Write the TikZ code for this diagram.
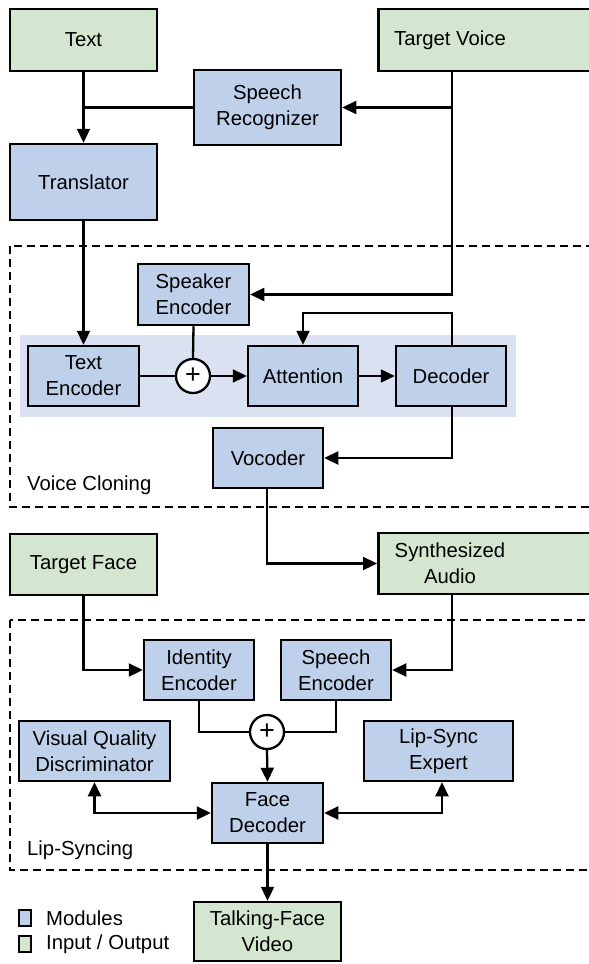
\documentclass[tikz,border=0pt]{standalone}
\usepackage{fontspec}
\setmainfont{Liberation Sans}
\usetikzlibrary{arrows.meta,positioning,calc}
\definecolor{modblue}{RGB}{190,208,234}
\definecolor{iogreen}{RGB}{213,230,208}
\definecolor{bandblue}{RGB}{218,226,242}
\begin{document}
\begin{tikzpicture}[x=1pt,y=-1pt,
  font=\fontsize{20.3}{26}\selectfont,
  box/.style={draw=black, line width=2.5pt, align=center, inner sep=0pt, minimum height=60pt},
  module/.style={box, fill=modblue},
  iobox/.style={box, fill=iogreen},
  plusnode/.style={circle, draw=black, line width=2.3pt, fill=white, minimum size=34pt, inner sep=0pt, font=\fontsize{27}{27}\selectfont},
  conn/.style={line width=2.3pt},
  arr/.style={conn, -{Triangle[length=14pt,width=13pt]}},
  biarr/.style={conn, {Triangle[length=14pt,width=13pt]}-{Triangle[length=14pt,width=13pt]}},
  group/.style={line width=2.3pt, dash pattern=on 8pt off 5pt},
  grouplabel/.style={anchor=west, inner sep=0pt}
]
\useasboundingbox (0,0) rectangle (589,964);
\clip (0,0) rectangle (589,964);
\fill[white] (0,0) rectangle (589,964);

% group frames and band
\draw[group] (10,246) rectangle (600,507);
\draw[group] (10,620) rectangle (600,870);
\fill[bandblue] (20,335) rectangle (516,417);

% top inputs
\node[iobox, minimum width=147pt, minimum height=62pt] (text) at (83.5,40) {Text};
\node[iobox, minimum width=230pt, minimum height=62pt, anchor=west] (tv) at (377,40) {};
\node (tvlab) at (450,40) {Target Voice};
\node[module, minimum width=147pt, minimum height=75pt] (sr) at (267.5,107.5) {Speech\\Recognizer};
\node[module, minimum width=147pt, minimum height=76pt] (tr) at (83.5,182) {Translator};

% voice cloning
\node[module, minimum width=111pt, minimum height=61pt] (spk) at (193.5,294.5) {Speaker\\Encoder};
\node[module, minimum width=111pt] (te) at (83.5,376) {Text\\Encoder};
\node[plusnode] (p1) at (193,376) {+};
\node[module, minimum width=110pt] (att) at (303,376) {Attention};
\node[module, minimum width=110pt] (dec) at (451,376) {Decoder};
\node[module, minimum width=110pt] (voc) at (268,458) {Vocoder};
\node[grouplabel] (vclab) at (27,485) {Voice Cloning};

% middle io
\node[iobox, minimum width=147pt, minimum height=61pt] (tf) at (83.5,564.5) {Target Face};
\node[iobox, minimum width=230pt, minimum height=61pt, anchor=west] (sa) at (377,563.5) {};
\node[align=center] (salab) at (450,563.5) {Synthesized\\Audio};

% lip syncing
\node[module, minimum width=110pt] (ie) at (199,670) {Identity\\Encoder};
\node[module, minimum width=110pt] (se) at (336,670) {Speech\\Encoder};
\node[plusnode] (p2) at (267,732) {+};
\node[module, minimum width=151pt] (vqd) at (94.5,751) {Visual Quality\\Discriminator};
\node[module, minimum width=149pt] (lse) at (438.5,751) {Lip-Sync\\Expert};
\node[module, minimum width=111pt] (fd) at (267.5,813) {Face\\Decoder};
\node[grouplabel] (lslab) at (27,850) {Lip-Syncing};
\node[iobox, minimum width=147pt, minimum height=59pt] (tfv) at (267.5,931.5) {Talking-Face\\Video};

% legend
\node[draw=black, line width=2.3pt, fill=modblue, minimum width=12pt, minimum height=16pt, inner sep=0pt] (lg1) at (25,918) {};
\node[anchor=west, inner sep=0pt] (lg1t) at (46,918) {Modules};
\node[draw=black, line width=2.3pt, fill=iogreen, minimum width=12pt, minimum height=16pt, inner sep=0pt] (lg2) at (25,944) {};
\node[anchor=west, inner sep=0pt] (lg2t) at (46,944) {Input / Output};

% connectors top
\coordinate (tvb) at (452,71);
\draw[arr] (text.south) -- (tr.north);
\draw[conn] (sr.west) -- (sr.west -| text.south);
\draw[arr] (tvb) |- (spk.east);
\draw[arr] (tvb |- sr.east) -- (sr.east);
\draw[arr] (tr.south) -- (te.north);

% voice cloning connectors
\draw[conn] (spk.south) -- (p1.north);
\draw[conn] (te.east) -- (p1.west);
\draw[arr] (p1.east) -- (att.west);
\draw[arr] (att.east) -- (dec.west);
\draw[arr] ([xshift=1pt]dec.north) -- ++(0,-32) -| (att.north);
\draw[arr] ([xshift=1pt]dec.south) |- (voc.east);
\draw[arr] ([xshift=-1pt]voc.south) |- (sa.west);

% lip syncing connectors
\coordinate (sab) at (452,594);
\draw[arr] (tf.south) |- (ie.west);
\draw[arr] (sab) |- (se.east);
\draw[conn] (ie.south) |- (p2.west);
\draw[conn] (se.south) |- (p2.east);
\draw[arr] (p2.south) -- (fd.north);
\draw[biarr] (vqd.south) |- (fd.west);
\draw[biarr] ([xshift=3.5pt]lse.south) |- (fd.east);
\draw[arr] (fd.south) -- (tfv.north);
\end{tikzpicture}
\end{document}
